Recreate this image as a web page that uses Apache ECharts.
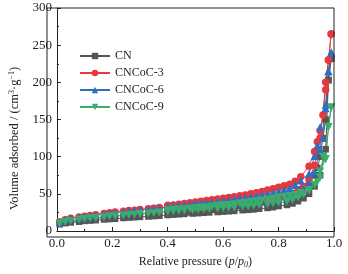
<!DOCTYPE html>
<html><head><meta charset="utf-8">
<script src="https://cdn.jsdelivr.net/npm/echarts@6/dist/echarts.min.js"></script>
<style>html,body{margin:0;padding:0;background:#fff}#c{width:348px;height:274px}</style>
</head><body><div id="c"></div>
<script>
// relative pressure points
const pAds = [0.01,0.03,0.05,0.08,0.10,0.12,0.14,0.17,0.19,0.21,0.24,0.26,0.28,0.30,0.33,0.35,0.37,0.40,0.42,0.44,0.46,0.49,0.51,0.53,0.55,0.58,0.60,0.62,0.64,0.67,0.69,0.71,0.73,0.76,0.78,0.80,0.83,0.85,0.87,0.89,0.91,0.93,0.95,0.97,0.98,0.99];
const pDes = [0.99,0.98,0.97,0.96,0.95,0.94,0.93,0.91,0.88,0.86,0.84,0.82,0.80,0.78,0.76,0.74,0.72,0.70,0.68,0.66,0.64,0.62,0.60,0.58,0.56,0.54,0.52,0.50,0.48,0.46,0.44,0.42,0.40];

const names = ['CN','CNCoC-3','CNCoC-6','CNCoC-9'];

const cnAds  = [9,10.5,11.5,12.5,13.5,14,14.5,15.5,16,16.5,17.5,18,18.5,19,19.5,20,20.5,21.5,22,22.5,23,23.5,24,24.5,25,25.5,26,26.5,27,28,28.5,29,30,31,32,33.5,35,37,40,44,50,60,75,110,203,232];
const cnDes  = [232,203,150,125,100,85,75,65,56,51,48,45.5,43.5,41.5,40,38.5,37,36,34.5,33.5,32.5,31.5,30.5,29.5,28.5,27.5,26.5,26,25,24.5,24,23,22.5];

const c3Ads  = [12,15,17,19,20,21,22,23.5,24.5,25.5,26.5,27.5,28,29,30,30.5,31.5,32.5,33,33.5,34,34.5,35,35.5,36,36.5,37,37.5,38,38.5,39,40,40.5,41.5,42.5,44,46,49,53,60,70,88,125,190,230,265];
const c3Des  = [265,230,200,156,135,120,107,87,73,67,63,61,59,57,55,53,51.5,50,48.5,47.5,46,45,44,43,42,41,40,39,38,37,36,35,34.5];

const c6Ads  = [12.5,15,17,18.5,19.5,20.5,21.5,23,24,25,26,27,27.5,28.5,29.5,30,31,32,32.5,33,33.5,34,34.5,35,35.5,36,36.5,37,37.5,38,38.5,39,40,41,42,43,45,47.5,51,56,64,80,110,165,215,240];
const c6Des  = [240,215,170,125,140,115,101,77,68,62,58,55.5,53,51.5,50,48.5,47,46,45,44,43,42,41,40,39,38,37,36.5,36,35,34.5,34,33.5];

const c9Ads  = [10,12,13.5,15,16,17,17.5,18.5,19.5,20,21,21.5,22,23,23.5,24,25,26,26.5,27,27.5,28,28.5,29,29.5,30,30.5,31,31.5,32.5,33,34,35,36,37,38,40,42,45,49,54,62,80,97,140,166];
const c9Des  = [166,140,97,100,72,66,62,55,51,48.5,47,46,45,43.5,42,41,40,39,38,37,36,35,35,34,33,32,31.5,31,30,29.5,29,28.5,28];

const colors = ['#555555','#e8383d','#2e6fc2','#3aad6c'];
const symbols = ['rect','circle','triangle','path://M0,0 L10,0 L5,9 Z'];
const sizes = [6.5,7.5,8,8];
const adsSets = [cnAds,c3Ads,c6Ads,c9Ads];
const desSets = [cnDes,c3Des,c6Des,c9Des];

const series = [];
names.forEach((n,i)=>{
  [[pAds,adsSets[i]],[pDes,desSets[i]]].forEach(([px,vals])=>{
    series.push({
      name:n, type:'line', data:px.map((p,k)=>[p,vals[k]]),
      symbol:symbols[i], symbolSize:sizes[i], showSymbol:true,
      lineStyle:{color:colors[i],width:1}, itemStyle:{color:colors[i]},
      animation:false
    });
  });
});

const font = 'Liberation Serif, Times New Roman, serif';
const chart = echarts.init(document.getElementById('c'));
chart.setOption({
  backgroundColor:'#fff',
  textStyle:{fontFamily:font},
  grid:{left:47,right:14,top:8,bottom:37},
  legend:{
    data:names, orient:'vertical', left:74, top:45, itemGap:5,
    itemWidth:30, itemHeight:8,
    textStyle:{fontFamily:font,fontSize:12,color:'#222'}
  },
  xAxis:{
    type:'value', min:0, max:1, interval:0.2,
    axisLine:{lineStyle:{color:'#222',width:1}},
    axisTick:{inside:true,length:4,lineStyle:{color:'#222'}},
    minorTick:{show:true,splitNumber:2,length:2,lineStyle:{color:'#222'}},
    splitLine:{show:false},
    axisLabel:{color:'#222',fontFamily:font,fontSize:13,margin:6,formatter:v=>v.toFixed(1)},
    name:'Relative pressure ({i|p}/{i|p}{sub|0})', nameLocation:'middle', nameGap:24,
    nameTextStyle:{color:'#222',fontFamily:font,fontSize:12,
      rich:{i:{fontStyle:'italic',fontFamily:font,fontSize:12,color:'#222'},
            sub:{fontStyle:'italic',fontFamily:font,fontSize:8,color:'#222',verticalAlign:'bottom',padding:[6,0,0,0]}}}
  },
  yAxis:{
    type:'value', min:0, max:300, interval:50,
    axisLine:{lineStyle:{color:'#222',width:1}},
    axisTick:{inside:true,length:4,lineStyle:{color:'#222'}},
    minorTick:{show:true,splitNumber:2,length:2,lineStyle:{color:'#222'}},
    splitLine:{show:false},
    axisLabel:{color:'#222',fontFamily:font,fontSize:13,margin:5},
    name:'Volume adsorbed / (cm{sup|3}·g{sup|−1})', nameLocation:'middle', nameGap:33,
    nameTextStyle:{color:'#222',fontFamily:font,fontSize:12.5,padding:[0,38,0,0],
      rich:{sup:{fontFamily:font,fontSize:8,color:'#222',verticalAlign:'top',padding:[0,0,6,0]}}}
  },
  series:series
});
// box border (top & right)
chart.setOption({graphic:[{type:'rect',shape:{x:47,y:8,width:287,height:229},style:{fill:'none',stroke:'#222',lineWidth:1},silent:true,z:100}]});
</script></body></html>
